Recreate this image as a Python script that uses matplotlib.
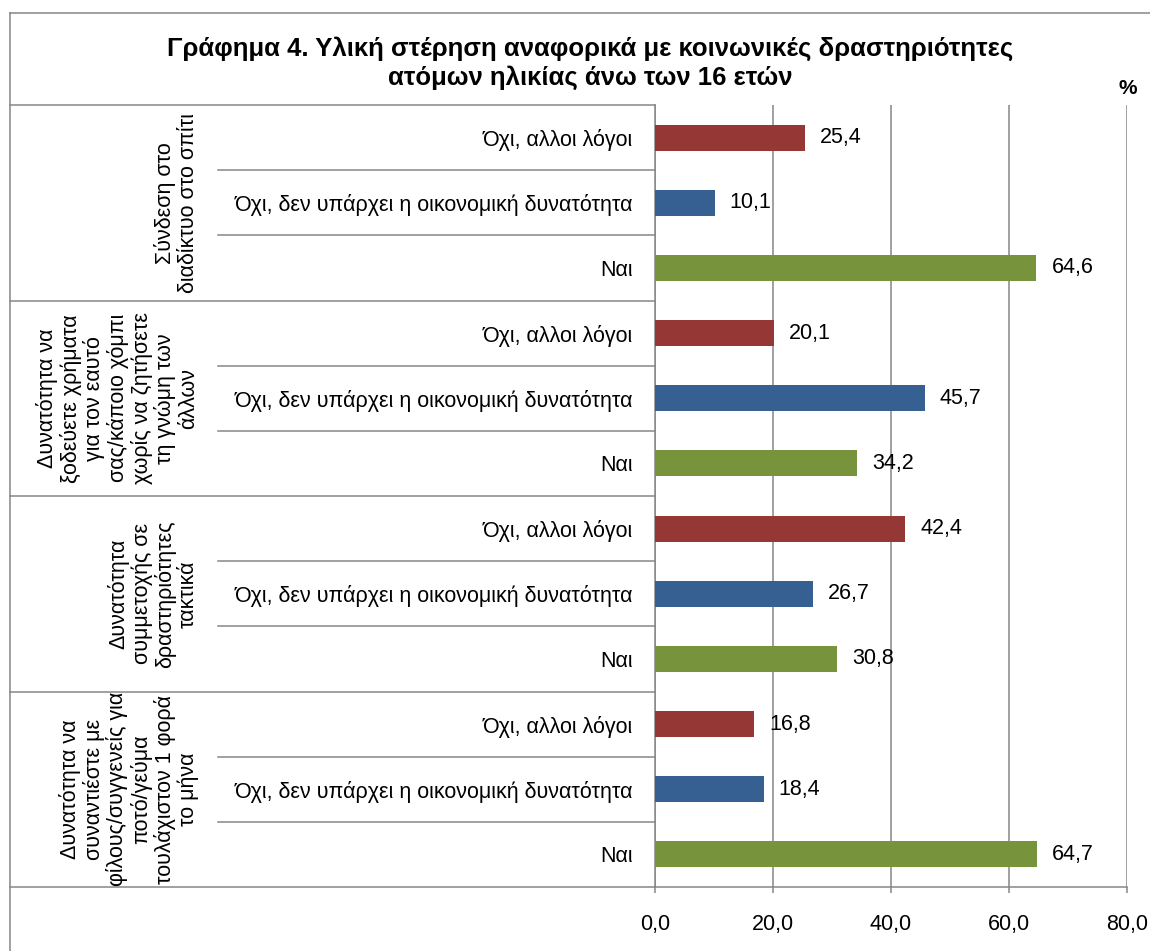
import matplotlib
matplotlib.use('Agg')
import matplotlib.pyplot as plt
from matplotlib.transforms import blended_transform_factory
import numpy as np

plt.rcParams['font.family'] = ['Liberation Sans', 'DejaVu Sans']

# ─────────────────────────────────────────────
# DATOS
# ─────────────────────────────────────────────
TITLE = ('Γράφημα 4. Υλική στέρηση αναφορικά με κοινωνικές δραστηριότητες\n'
         'ατόμων ηλικίας άνω των 16 ετών')

groups = [
    'Σύνδεση στο\nδιαδίκτυο στο σπίτι',
    'Δυνατότητα να\nξοδεύετε χρήματα\nγια τον εαυτό\nσας/κάποιο χόμπι\n'
    'χωρίς να ζητήσετε\nτη γνώμη των\nάλλων',
    'Δυνατότητα\nσυμμετοχής σε\nδραστηριότητες\nτακτικά',
    'Δυνατότητα να\nσυναντιέστε με\nφίλους/συγγενείς για\nποτό/γεύμα\n'
    'τουλάχιστον 1 φορά\nτο μήνα',
]
answers = ['Όχι, αλλοι λόγοι',
           'Όχι, δεν υπάρχει η οικονομική δυνατότητα',
           'Ναι']
values = [
    [25.4, 10.1, 64.6],
    [20.1, 45.7, 34.2],
    [42.4, 26.7, 30.8],
    [16.8, 18.4, 64.7],
]
bar_colors = ['#953735', '#376092', '#77933C']
x_ticks = [0, 20, 40, 60, 80]

LINE = '#868686'
W, H = 1150, 951
FS = 15.5

fig = plt.figure(figsize=(W / 100, H / 100), dpi=100)
ax = fig.add_axes([655 / W, (H - 887) / H, (1127 - 655) / W, (887 - 105) / H])

n_ans = len(answers)
ypos, vals, cols, labels = [], [], [], []
for g, row in enumerate(values):
    for a, v in enumerate(row):
        ypos.append(g * n_ans + a)
        vals.append(v)
        cols.append(bar_colors[a])
        labels.append(answers[a])

ax.barh(ypos, vals, height=0.4, color=cols, zorder=3)
for y, v in zip(ypos, vals):
    ax.annotate(f'{v:.1f}'.replace('.', ','), (v, y), xytext=(11, 0),
                textcoords='offset points', va='center', ha='left', fontsize=FS)

n = len(ypos)
ax.set_ylim(n - 0.5, -0.5)
ax.set_xlim(0, 80)
ax.set_yticks(ypos)
ax.set_yticklabels(labels, fontsize=FS)
ax.tick_params(axis='y', length=0, pad=16)
ax.set_xticks(x_ticks)
ax.set_xticklabels([f'{t:.1f}'.replace('.', ',') for t in x_ticks], fontsize=FS)
ax.tick_params(axis='x', direction='out', length=4.5, width=1.1, color=LINE, pad=15)

ax.grid(axis='x', color=LINE, linewidth=1.1, zorder=0)
for s in ['top', 'right']:
    ax.spines[s].set_visible(False)
for s in ['left', 'bottom']:
    ax.spines[s].set_color(LINE)
    ax.spines[s].set_linewidth(1.1)

# líneas de separación a la izquierda del eje
tr = blended_transform_factory(fig.transFigure, ax.transData)
for g in range(len(groups) + 1):
    yb = g * n_ans - 0.5
    ax.plot([10 / W, 655 / W], [yb, yb], transform=tr, color=LINE,
            linewidth=1.1, clip_on=False)
for g in range(len(groups)):
    for k in range(1, n_ans):
        yb = g * n_ans + k - 0.5
        ax.plot([218 / W, 655 / W], [yb, yb], transform=tr, color=LINE,
                linewidth=1.1, clip_on=False)

# etiquetas de grupo (rotadas)
for g, name in enumerate(groups):
    yc = g * n_ans + (n_ans - 1) / 2
    ax.text(199 / W, yc, name, transform=tr, rotation=90, ha='right',
            va='center', multialignment='center', fontsize=FS, linespacing=1.1)

# marco exterior
fig.add_artist(plt.Line2D([10 / W, 10 / W], [0, 1 - 13 / H], color=LINE, linewidth=1.1))
fig.add_artist(plt.Line2D([10 / W, 1], [1 - 13 / H, 1 - 13 / H], color=LINE, linewidth=1.1))

fig.text(590 / W, 1 - 63 / H, TITLE, ha='center', va='center',
         fontsize=18.5, fontweight='bold', linespacing=1.25)
fig.text(1128 / W, 1 - 88 / H, '%', ha='center', va='center',
         fontsize=15, fontweight='bold')

fig.savefig('out.png', dpi=100)
